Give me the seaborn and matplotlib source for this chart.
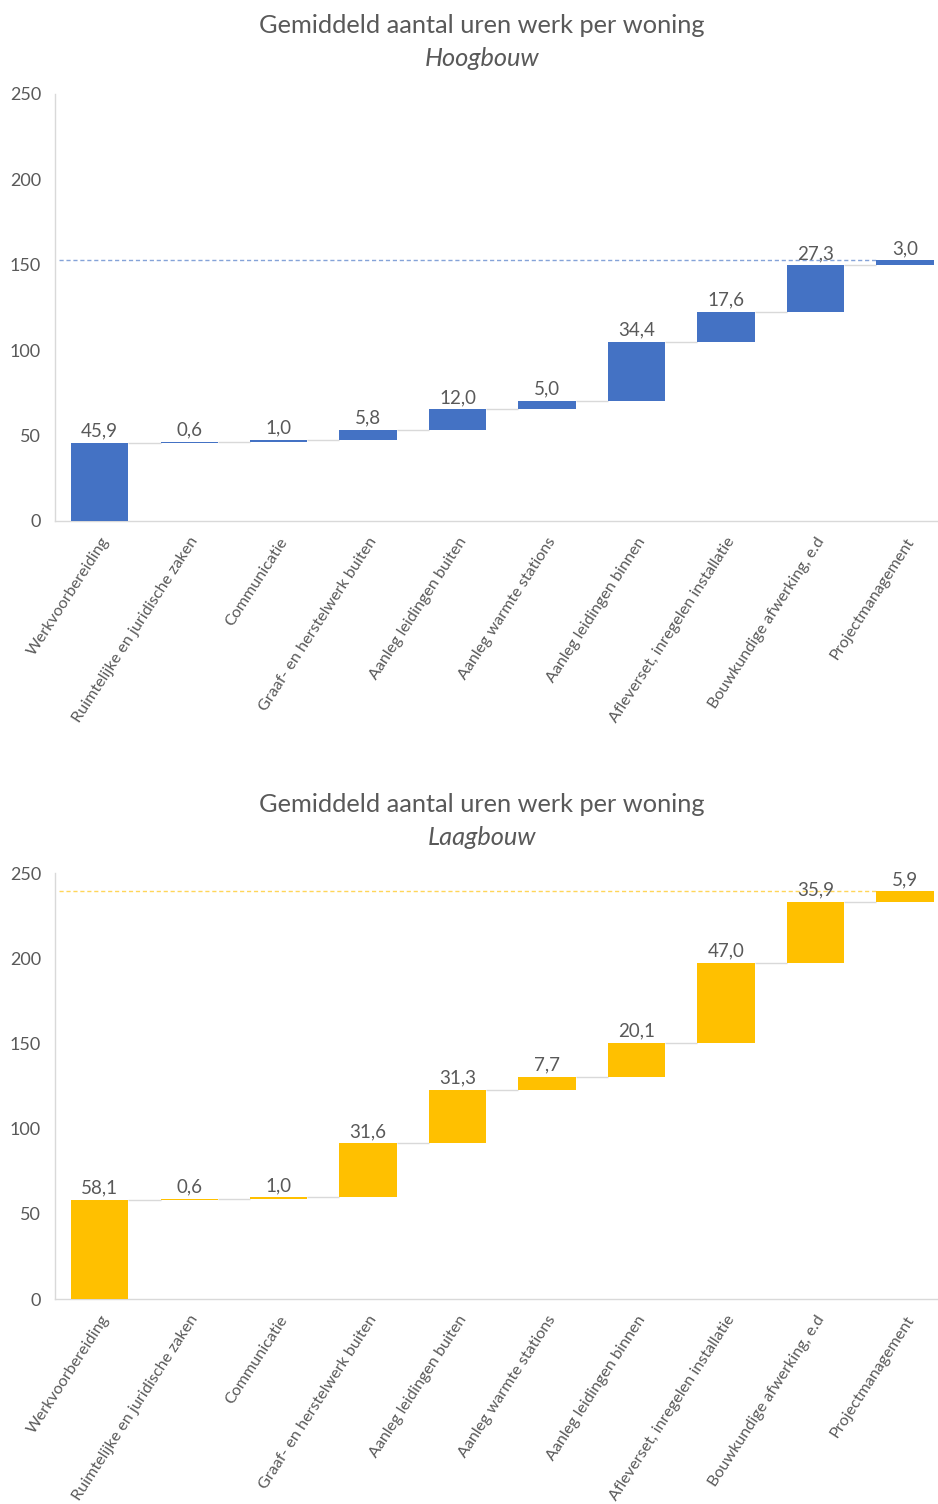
import numpy as np
import pandas as pd
import matplotlib
matplotlib.use("Agg")
import matplotlib.pyplot as plt
import seaborn as sns

categories = [
    "Werkvoorbereiding",
    "Ruimtelijke en juridische zaken",
    "Communicatie",
    "Graaf- en herstelwerk buiten",
    "Aanleg leidingen buiten",
    "Aanleg warmte stations",
    "Aanleg leidingen binnen",
    "Afleverset, inregelen installatie",
    "Bouwkundige afwerking, e.d",
    "Projectmanagement",
]
hoogbouw_uren = [45.9, 0.6, 1.0, 5.8, 12.0, 5.0, 34.4, 17.6, 27.3, 3.0]
laagbouw_uren = [58.1, 0.6, 1.0, 31.6, 31.3, 7.7, 20.1, 47.0, 35.9, 5.9]
y_ticks = [0, 50, 100, 150, 200, 250]
title_main = "Gemiddeld aantal uren werk per woning"
subtitles = ["Hoogbouw", "Laagbouw"]

sns.set_theme(style="white")
plt.rcParams["font.family"] = ["Lato", "DejaVu Sans"]

TEXT = "#595959"
GRID = "#D9D9D9"
BAR_W = 0.64

fig = plt.figure(figsize=(9.38, 15.04), dpi=100)
ax_top = fig.add_axes([0.0586, 0.6536, 0.9414, 0.2839])
ax_bot = fig.add_axes([0.0586, 0.1363, 0.9414, 0.2832])


def waterfall(ax, values, color, subtitle, title_y):
    vals = np.array(values, dtype=float)
    tops = np.cumsum(vals)
    bottoms = tops - vals
    total = tops[-1]
    df = pd.DataFrame({"cat": categories, "val": vals, "bottom": bottoms})
    sns.barplot(data=df, x="cat", y="val", order=categories, color=color,
                width=BAR_W, bottom=df["bottom"].values, saturation=1,
                edgecolor="none", ax=ax, zorder=3)

    # connectors between consecutive bars at the running total
    for i in range(len(vals) - 1):
        ax.plot([i + BAR_W / 2, i + 1 - BAR_W / 2], [tops[i], tops[i]],
                color=GRID, lw=1.0, zorder=2, solid_capstyle="butt")

    # dashed line at the overall total
    ax.plot([-0.45, len(vals) - 1 - BAR_W / 2], [total, total],
            color=color, lw=1.0, ls=(0, (3, 2)), alpha=0.65, zorder=1)

    for i, v in enumerate(vals):
        ax.text(i, tops[i] + 2.0, f"{v:.1f}".replace(".", ","),
                ha="center", va="bottom", fontsize=13.5, color=TEXT, zorder=4)

    ax.set_ylim(0, 250)
    ax.set_xlim(-0.5, 9.37)
    ax.set_yticks(y_ticks)
    ax.set_yticklabels([str(t) for t in y_ticks], fontsize=13, color=TEXT)
    ax.set_xticks(range(len(categories)))
    ax.set_xticklabels(categories, rotation=57, ha="right",
                       rotation_mode="anchor", fontsize=11.6, color=TEXT)
    ax.tick_params(axis="y", length=0, pad=10)
    ax.tick_params(axis="x", length=0, pad=10)
    ax.set_xlabel("")
    ax.set_ylabel("")
    for side in ["top", "right"]:
        ax.spines[side].set_visible(False)
    for side in ["left", "bottom"]:
        ax.spines[side].set_color(GRID)
        ax.spines[side].set_linewidth(1.0)

    fig.text(0.514, title_y, title_main, ha="center", va="center",
             fontsize=18.3, color=TEXT)
    fig.text(0.514, title_y - 0.022, subtitle, ha="center", va="center",
             fontsize=18.3, color=TEXT, style="italic")


waterfall(ax_top, hoogbouw_uren, "#4472C4", subtitles[0], 1 - 25.5 / 1504)
waterfall(ax_bot, laagbouw_uren, "#FFC000", subtitles[1], 1 - 804.5 / 1504)

fig.savefig("out.png", dpi=100, facecolor="white")
